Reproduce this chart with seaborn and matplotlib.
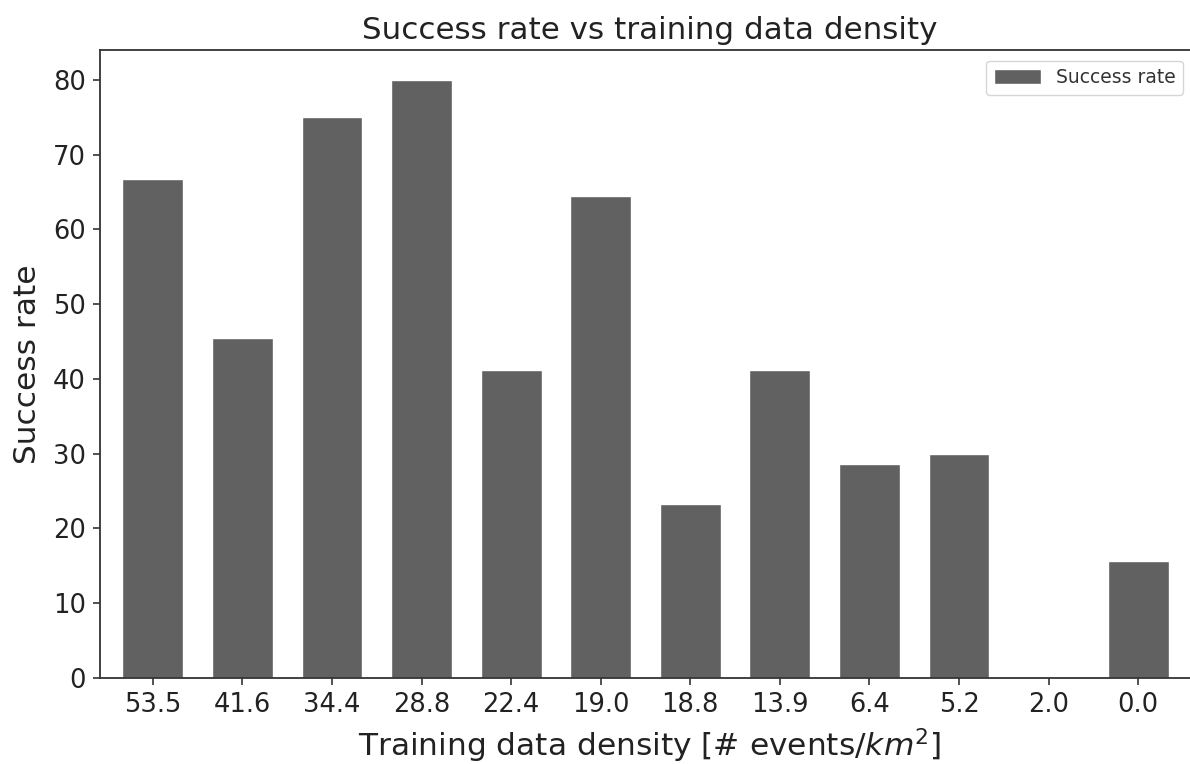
import matplotlib
matplotlib.use("Agg")
import matplotlib.pyplot as plt
import seaborn as sns
import pandas as pd

densities = ["53.5", "41.6", "34.4", "28.8", "22.4", "19.0", "18.8", "13.9", "6.4", "5.2", "2.0", "0.0"]
success_rate = [66.7, 45.5, 75.0, 80.0, 41.2, 64.5, 23.3, 41.2, 28.6, 30.0, 0.0, 15.6]

df = pd.DataFrame({"density": densities, "rate": success_rate})

sns.set_style("ticks")
plt.rcParams["font.family"] = ["DejaVu Sans"]

fig = plt.figure(figsize=(11.9, 7.64), dpi=100)
ax = fig.add_axes([100 / 1190, 1 - 678 / 764, 1100 / 1190, (678 - 50) / 764])

sns.barplot(data=df, x="density", y="rate", order=densities, color="#616161",
            saturation=1, width=0.68, label="Success rate", ax=ax)

ax.set_xlim(-0.59, 11.69)
ax.set_ylim(0, 84)
ax.set_yticks(range(0, 81, 10))
ax.tick_params(axis="both", labelsize=18.5, length=5, width=1.2, color="#333333",
               labelcolor="#222222", pad=5)
ax.set_title("Success rate vs training data density", fontsize=22.3, color="#222222", pad=8)
ax.set_xlabel(r"Training data density [# events/$km^2$]", fontsize=22.5, color="#222222", labelpad=6)
ax.set_ylabel("Success rate", fontsize=22.5, color="#222222", labelpad=8)
for s in ax.spines.values():
    s.set_color("#333333")
    s.set_linewidth(1.3)
ax.spines["right"].set_visible(False)
ax.legend(loc="upper right", fontsize=13.5, frameon=True, bbox_to_anchor=(0.993, 0.998),
          handlelength=2.5, handleheight=0.9, labelcolor="#333333")

fig.savefig("out.png", dpi=100)
